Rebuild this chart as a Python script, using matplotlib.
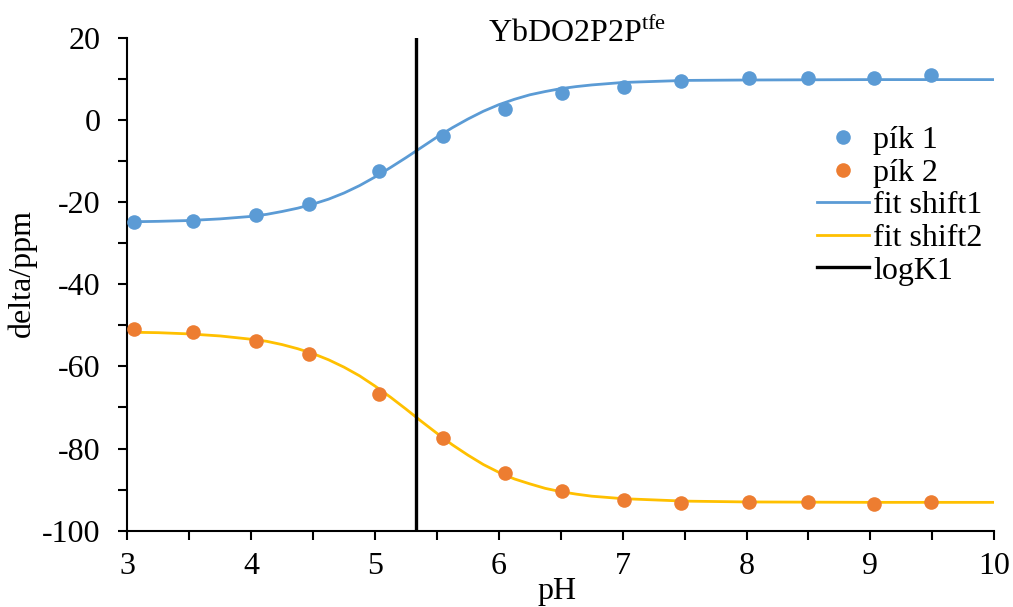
import matplotlib
matplotlib.use("Agg")
import matplotlib.pyplot as plt
from matplotlib.ticker import MultipleLocator

plt.rcParams['font.family'] = ['Liberation Serif', 'DejaVu Serif']
plt.rcParams['mathtext.fontset'] = 'custom'
plt.rcParams['mathtext.rm'] = 'Liberation Serif'
plt.rcParams['axes.unicode_minus'] = False

# measured titration points
ph = [3.05, 3.53, 4.04, 4.47, 5.03, 5.55, 6.05, 6.51, 7.01, 7.47, 8.02, 8.50, 9.03, 9.49]
peak1 = [-24.9, -24.5, -23.2, -20.4, -12.5, -3.9, 2.7, 6.5, 8.0, 9.5, 10.1, 10.2, 10.3, 11.0]
peak2 = [-51.0, -51.7, -53.8, -57.0, -66.7, -77.4, -86.0, -90.3, -92.5, -93.2, -92.9, -92.9, -93.4, -93.1]

# fitted chemical-shift curves
fit_ph = [3.05, 3.25, 3.5, 3.75, 4.0, 4.125, 4.25, 4.375, 4.5, 4.625, 4.75, 4.875,
          5.0, 5.125, 5.25, 5.375, 5.5, 5.625, 5.75, 5.875, 6.0, 6.125, 6.25,
          6.375, 6.5, 6.625, 6.75, 7.0, 7.5, 8.0, 9.0, 10.0]
fit1 = [-24.8, -24.7, -24.5, -24.1, -23.5, -23.0, -22.3, -21.5, -20.5, -19.3, -17.8, -16.0,
        -13.9, -11.6, -9.2, -6.7, -4.2, -1.9, 0.2, 2.1, 3.7, 5.0, 6.1,
        6.9, 7.6, 8.1, 8.5, 9.1, 9.6, 9.7, 9.8, 9.8]
fit2 = [-51.7, -51.8, -52.1, -52.6, -53.4, -53.9, -54.7, -55.7, -56.9, -58.4, -60.2, -62.3,
        -64.8, -67.5, -70.4, -73.4, -76.3, -79.1, -81.6, -83.9, -85.8, -87.4, -88.6,
        -89.7, -90.5, -91.1, -91.6, -92.2, -92.8, -93.0, -93.1, -93.1]

log_k1 = 5.33

BLUE = '#5B9BD5'
ORANGE = '#ED7D31'
GOLD = '#FFC000'
FS = 23

fig = plt.figure(figsize=(10.13, 6.07), dpi=100)
ax = fig.add_axes([0.1257, 0.1257, 0.8558, 0.8122])

ax.plot(ph, peak1, 'o', color=BLUE, markersize=10.5, markeredgewidth=0, label='pík 1', zorder=4)
ax.plot(ph, peak2, 'o', color=ORANGE, markersize=10.5, markeredgewidth=0, label='pík 2', zorder=4)
ax.plot(fit_ph, fit1, '-', color=BLUE, lw=2.0, label='fit shift1', zorder=3)
ax.plot(fit_ph, fit2, '-', color=GOLD, lw=2.0, label='fit shift2', zorder=3)
ax.axvline(log_k1, color='black', lw=2.4, label='logK1', zorder=5)

ax.set_xlim(3, 10)
ax.set_ylim(-100, 20)
ax.xaxis.set_major_locator(MultipleLocator(1))
ax.xaxis.set_minor_locator(MultipleLocator(0.5))
ax.yaxis.set_major_locator(MultipleLocator(20))
ax.yaxis.set_minor_locator(MultipleLocator(10))

for s in ('top', 'right'):
    ax.spines[s].set_visible(False)
for s in ('left', 'bottom'):
    ax.spines[s].set_linewidth(1.5)

ax.tick_params(which='both', direction='out', length=6.5, width=1.5, labelsize=FS)
ax.tick_params(axis='y', which='both', pad=13)
ax.tick_params(axis='x', which='both', pad=9)

fig.text(22 / 1013, 1 - 273 / 607, 'delta/ppm', rotation=90, fontsize=FS,
         ha='center', va='center')
fig.text(557.5 / 1013, 0.5 / 607, 'pH', fontsize=FS, ha='center', va='bottom')
fig.text(488 / 1013, 1 - 41.7 / 607, r'YbDO2P2P$^{\mathrm{tfe}}$', fontsize=FS,
         ha='left', va='baseline')

leg = ax.legend(loc='upper left', bbox_to_anchor=(817 / 1013, 1 - 126 / 607),
                bbox_transform=fig.transFigure, frameon=False, fontsize=FS,
                handlelength=1.63, handletextpad=0.12, labelspacing=0.1,
                borderpad=0, borderaxespad=0, markerscale=1.0)

fig.savefig('out.png', dpi=100)
